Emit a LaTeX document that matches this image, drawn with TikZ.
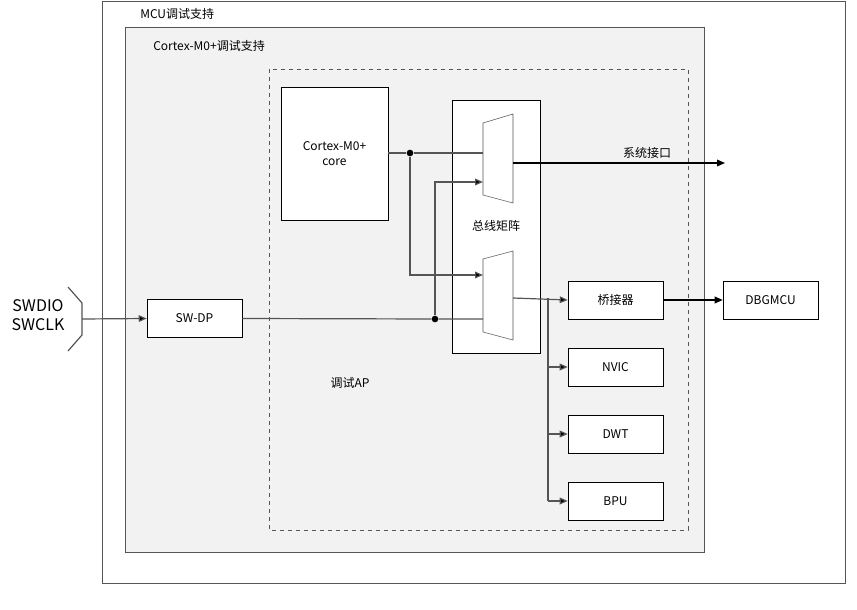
\documentclass[tikz,border=0pt]{standalone}
\usepackage{fontspec}
\setmainfont{Noto Sans CJK SC}
\usetikzlibrary{arrows.meta, positioning, calc}
\definecolor{panelgray}{HTML}{F2F2F2}
\definecolor{linegray}{HTML}{555555}

\begin{document}
\begin{tikzpicture}[x=0.75pt, y=-0.75pt,
  block/.style={rectangle, draw=black, fill=white, minimum width=71.25pt, minimum height=28.5pt, align=center, font=\fontsize{9}{11}\selectfont},
  label/.style={font=\fontsize{9}{11}\selectfont, inner sep=0pt},
  wire/.style={draw=linegray, line width=0.9pt},
  arrow/.style={wire, -{Triangle[length=6pt, width=5pt, fill=black]}},
  dot/.style={circle, fill=black, inner sep=0pt, minimum size=5pt}
]
  \useasboundingbox (0,0) rectangle (857,610);
  % frames
  \draw[linegray, fill=white] (102,1) rectangle (845,583);
  \draw[linegray, fill=panelgray] (125,27) rectangle (704,552);
  \draw[linegray, dashed] (269,69) rectangle (688,530);
  \node[label, anchor=west] (mcu) at (140,14) {MCU调试支持};
  \node[label, anchor=west] (m0) at (153,46) {Cortex-M0+调试支持};
  \node[label] (ap) at (350,383) {调试AP};

  % core and bus matrix
  \node[block, minimum width=80.25pt, minimum height=99.75pt] (core) at (334.5,153.5) {Cortex-M0+\\core};
  \node[block, minimum width=66pt, minimum height=189.75pt] (bus) at (496,226.5) {};
  \node[label] (buslbl) at (496,226) {总线矩阵};
  \draw[linegray, fill=white] (483,123) -- (513,114) -- (513,203) -- (483,195) -- cycle;
  \draw[linegray, fill=white] (483,259) -- (513,251) -- (513,340) -- (483,332) -- cycle;
  \coordinate (mux1a) at (483,153);
  \coordinate (mux1b) at (483,182);
  \coordinate (mux1o) at (513,163);
  \coordinate (mux2a) at (483,275);
  \coordinate (mux2b) at (483,319);
  \coordinate (mux2o) at (513,298);

  % debug port
  \node[block] (swdp) at (194.5,318.5) {SW-DP};
  \node[align=center, font=\fontsize{12}{14}\selectfont, inner sep=0pt] (pins) at (38,315) {SWDIO\\SWCLK};
  \draw[wire] (68,287) -- (82,303) -- (82,335) -- (68,351);
  \coordinate (port) at (82,319);

  % peripherals
  \node[block] (bridge) at (615.5,300) {桥接器};
  \node[block] (nvic) at (615.5,367) {NVIC};
  \node[block] (dwt) at (615.5,434) {DWT};
  \node[block] (bpu) at (615.5,501) {BPU};
  \node[block] (dbg) at (770.5,300) {DBGMCU};
  \coordinate (sysout) at (725,163);
  \node[label] (syslbl) at (647,153) {系统接口};

  % wires
  \node[dot] (j1) at (410,153) {};
  \node[dot] (j2) at (435,319) {};
  \draw[arrow] (port) -- (swdp.west);
  \draw[wire] (core.east |- j1) -- (j1) -- (mux1a);
  \draw[arrow] (j1) |- (mux2a);
  \draw[wire] (swdp.east) -- (j2) -- (mux2b);
  \draw[arrow] (j2) |- (mux1b);
  \draw[arrow, draw=black] (mux1o) -- (sysout);
  \draw[arrow] (mux2o) -- (bridge.west);
  \draw[wire] (548,298) -- (548,501);
  \draw[arrow] (548,367) -- (nvic.west);
  \draw[arrow] (548,434) -- (dwt.west);
  \draw[arrow] (548,501) -- (bpu.west);
  \draw[arrow, draw=black] (bridge) -- (dbg);
\end{tikzpicture}
\end{document}
